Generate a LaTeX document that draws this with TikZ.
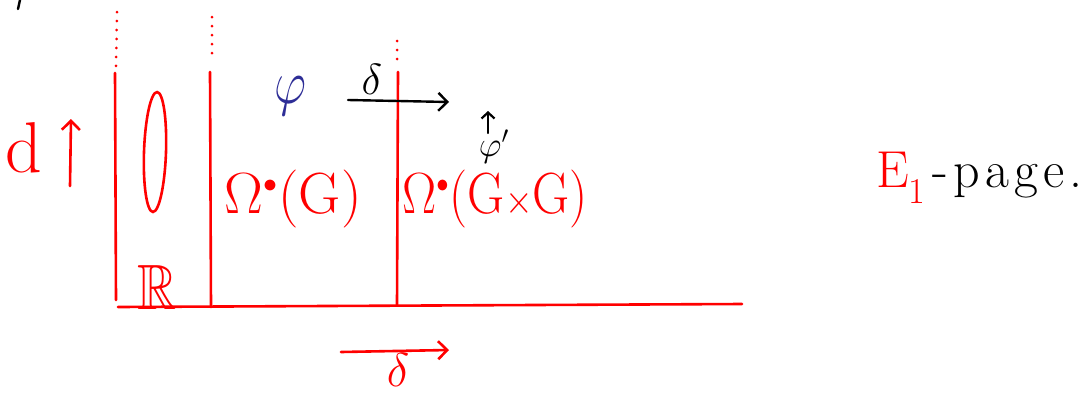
\documentclass[tikz,border=0pt]{standalone}
\usepackage{amssymb}
\usetikzlibrary{arrows.meta,shapes.geometric}
\definecolor{pen}{RGB}{255,0,0}
\definecolor{inkblue}{RGB}{45,45,150}
\tikzset{
  redline/.style={draw=pen, line width=2.6pt, line cap=round},
  dotline/.style={draw=pen, line width=3pt, line cap=round, dash pattern=on 0pt off 9pt},
  blackarrow/.style={draw=black, line width=2.4pt, line cap=round, -{Straight Barb[length=9pt,width=18pt,line width=2.4pt]}},
  redarrow/.style={draw=pen, line width=2.6pt, line cap=round, -{Straight Barb[length=9pt,width=18pt,line width=2.6pt]}},
  lbl/.style={inner sep=0pt, anchor=center, font=\fontsize{20}{20}\selectfont},
}
\begin{document}
\begin{tikzpicture}[x=1pt,y=-1pt]
\useasboundingbox (0,0) rectangle (1089,397);
% stray mark top-left
\draw[line width=2.4pt, line cap=round] (20,0) -- (18,9);
% coordinates
\coordinate (v1t) at (115,73); \coordinate (v1b) at (116,300);
\coordinate (v2t) at (210,72); \coordinate (v2b) at (211,307);
\coordinate (v3t) at (398,72); \coordinate (v3b) at (397,305);
\coordinate (hl) at (118,307); \coordinate (hr) at (742,304);
% dotted tops
\coordinate (d1a) at (117,12); \coordinate (d1b) at (116,66);
\coordinate (d2a) at (212,17); \coordinate (d2b) at (212,60);
\coordinate (d3a) at (397,41); \coordinate (d3b) at (397,62);
\path[dotline] (d1a) -- (d1b);
\path[dotline] (d2a) -- (d2b);
\path[dotline] (d3a) -- (d3b);
% main lines
\path[redline] (v1t) -- (v1b);
\path[redline] (v2t) -- (v2b);
\path[redline] (v3t) -- (v3b);
\path[redline] (hl) -- (hr);
% ellipse
\node[draw=pen, line width=2.6pt, ellipse, minimum width=22pt, minimum height=120pt, inner sep=0pt, rotate=-2] (ell) at (155,152) {};
% d and arrow
\node[lbl, text=pen, scale=3.6] (dlab) at (24,148) {d};
\coordinate (da) at (70,186); \coordinate (db) at (71,119);
\path[redarrow] (da) -- (db);
% R
\node[lbl, text=pen, scale=3.2, xscale=0.85] (R) at (157,287) {$\mathbb{R}$};
% Omega labels
\node[lbl, text=pen, scale=2.8] (om1) at (293,199) {$\Omega^{\scriptscriptstyle\bullet}(\mathrm{G})$};
\node[lbl, text=pen, scale=2.8, xscale=0.88] (om2) at (495,199) {$\Omega^{\scriptscriptstyle\bullet}(\mathrm{G}{\scriptstyle\times}\mathrm{G})$};
% phi blue
\node[lbl, text=inkblue, scale=3.0, xscale=0.8] (phi) at (290,96) {$\varphi$};
% delta black with arrow
\node[lbl, scale=2.1] (dl1) at (372,79) {$\delta$};
\coordinate (ba) at (348,100); \coordinate (bb) at (449,102);
\path[blackarrow] (ba) -- (bb);
% phi prime
\coordinate (pa) at (488,133); \coordinate (pb) at (488,111);
\path[draw=black, line width=2.2pt, line cap=round, -{Straight Barb[length=6pt,width=13pt,line width=2.2pt]}] (pa) -- (pb);
\node[lbl, scale=1.7] (phip) at (494,147) {$\varphi'$};
% red delta arrow below
\coordinate (ra) at (341,352); \coordinate (rb) at (449,350);
\path[redarrow] (ra) -- (rb);
\node[lbl, text=pen, scale=2.3] (dl2) at (398,370) {$\delta$};
% E1-page
\node[inner sep=0pt, anchor=west, font=\fontsize{52}{52}\selectfont] (E1) at (876,178) {\textcolor{pen}{E\textsubscript{1}}\kern6pt-\kern6pt p\kern5pt a\kern5pt g\kern5pt e\kern5pt .};
\end{tikzpicture}
\end{document}
